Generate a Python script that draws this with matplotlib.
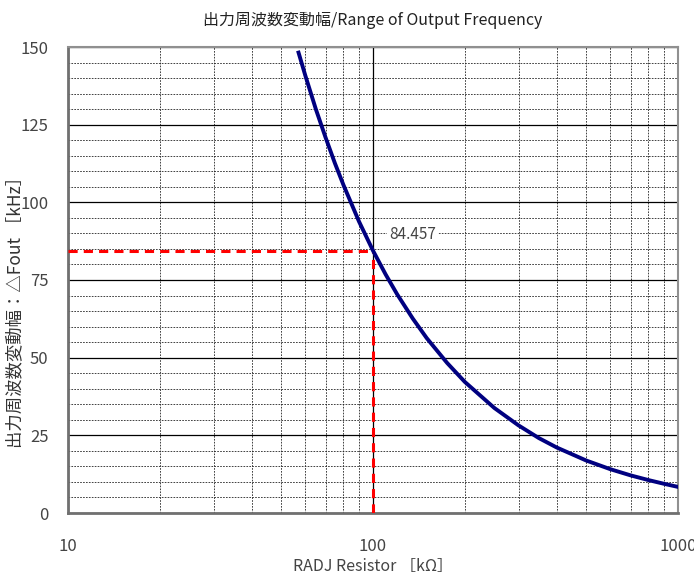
import matplotlib.pyplot as plt
from matplotlib.ticker import LogLocator, MultipleLocator, FixedLocator, NullFormatter

plt.rcParams["font.family"] = ["Noto Sans CJK JP", "DejaVu Sans"]

# ===============================
# DATA
# ===============================
radj_kohm = [57, 60, 65, 70, 75, 80, 90, 100, 110, 120, 135, 150, 175, 200, 250,
             300, 350, 400, 500, 600, 700, 800, 900, 1000]
delta_fout_khz = [148.2, 140.8, 129.9, 120.7, 112.6, 105.6, 93.8, 84.457, 76.8,
                  70.4, 62.6, 56.3, 48.3, 42.2, 33.8, 28.2, 24.1, 21.1, 16.9,
                  14.1, 12.1, 10.6, 9.4, 8.4]
marked_r = 100
marked_f = 84.457

x_ticks = [10, 100, 1000]
x_ticklabels = ["10", "100", "1000"]

# ===============================
# FIGURE
# ===============================
fig = plt.figure(figsize=(6.94, 5.83), dpi=100)
ax = fig.add_axes([68 / 694, 1 - 513 / 583, 610 / 694, 466 / 583])

ax.set_xscale("log")
ax.set_xlim(10, 1000)
ax.set_ylim(0, 150)

ax.xaxis.set_major_locator(FixedLocator(x_ticks))
ax.set_xticklabels(x_ticklabels)
ax.xaxis.set_minor_locator(LogLocator(base=10, subs=range(2, 10)))
ax.xaxis.set_minor_formatter(NullFormatter())
ax.yaxis.set_major_locator(MultipleLocator(25))
ax.yaxis.set_minor_locator(MultipleLocator(5))

ax.grid(which="major", color="black", linewidth=0.9, linestyle="-")
ax.grid(which="minor", color="#222222", linewidth=0.6, linestyle=(0, (2, 1.5)))
ax.set_axisbelow(True)

ax.tick_params(which="both", length=0)
ax.tick_params(axis="y", pad=14, labelsize=12, colors="#444444")
ax.tick_params(axis="x", pad=18, labelsize=12, colors="#444444")

for side in ["left", "bottom"]:
    ax.spines[side].set_color("#707070")
    ax.spines[side].set_linewidth(2)
for side in ["top", "right"]:
    ax.spines[side].set_color("#909090")
    ax.spines[side].set_linewidth(1.5)

# marker lines to the 100k point
ax.plot([10, marked_r], [marked_f, marked_f], color="red", linewidth=2.2,
        linestyle=(0, (3, 2)), zorder=3)
ax.plot([marked_r, marked_r], [0, marked_f], color="red", linewidth=2.2,
        linestyle=(0, (3, 2)), zorder=3)

ax.plot(radj_kohm, delta_fout_khz, color="#000080", linewidth=2.8, zorder=4)

ax.text(113, 89.5, f"{marked_f}", fontsize=11, color="#444444",
        ha="left", va="center", zorder=5,
        bbox=dict(facecolor="white", edgecolor="none", pad=1.5))

ax.set_title("出力周波数変動幅/Range of Output Frequency", fontsize=11.5,
             color="#222222", pad=16)
ax.set_xlabel("RADJ Resistor ［kΩ］", fontsize=11.5, color="#444444", labelpad=2)
ax.set_ylabel("出力周波数変動幅：△Fout ［kHz］", fontsize=12.5, color="#333333",
              va="center")
ax.yaxis.set_label_coords(-0.087, 0.44)

plt.savefig("out.png", dpi=100)
